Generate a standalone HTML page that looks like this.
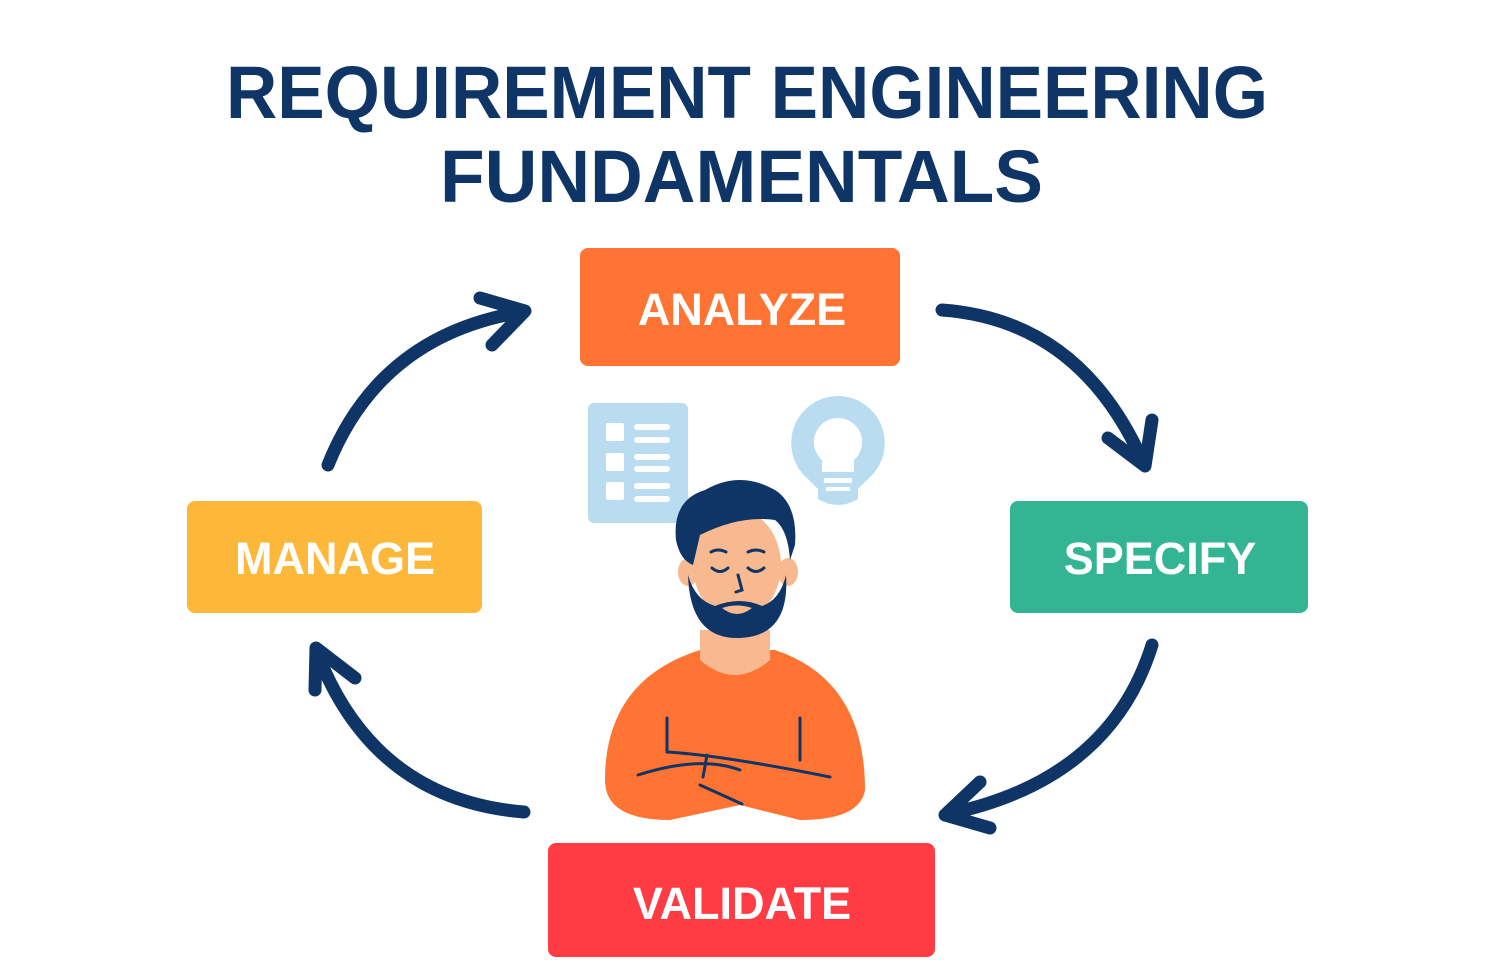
<!DOCTYPE html>
<html><head><meta charset="utf-8"><style>
html,body{margin:0;padding:0;background:#fff;}
svg{display:block;}
</style></head><body>
<svg width="1500" height="973" viewBox="0 0 1500 973" xmlns="http://www.w3.org/2000/svg">
<rect width="1500" height="973" fill="#fff"/>
<g font-family="Liberation Sans, sans-serif" font-weight="bold" fill="#0E3566">
<text x="226" y="118" font-size="74" textLength="1042" lengthAdjust="spacingAndGlyphs">REQUIREMENT ENGINEERING</text>
<text x="440" y="202" font-size="74" textLength="603" lengthAdjust="spacingAndGlyphs">FUNDAMENTALS</text>
</g>
<g>
<rect x="580" y="248" width="320" height="118" rx="8" fill="#FF7333"/>
<rect x="187" y="501" width="295" height="112" rx="8" fill="#FDB83A"/>
<rect x="1010" y="501" width="298" height="112" rx="8" fill="#33B594"/>
<rect x="548" y="843" width="387" height="114" rx="8" fill="#FF3B44"/>
</g>
<g font-family="Liberation Sans, sans-serif" font-weight="bold" fill="#fff" font-size="45" text-anchor="middle">
<text x="742" y="325">ANALYZE</text>
<text x="335" y="574">MANAGE</text>
<text x="1160" y="574">SPECIFY</text>
<text x="742" y="919">VALIDATE</text>
</g>
<g fill="none" stroke="#0E3566" stroke-width="13" stroke-linecap="round" stroke-linejoin="round">
<path d="M328 465 Q380 335 522 312"/>
<path d="M480 298 L525 311 L492 345"/>
<path d="M942 310 Q1080 320 1143 462"/>
<path d="M1108 438 L1145 466 L1152 420"/>
<path d="M1152 645 Q1110 780 948 814"/>
<path d="M980 782 L945 815 L990 828"/>
<path d="M524 812 Q375 800 318 655"/>
<path d="M315 690 L316 648 L355 678"/>
</g>
<!-- checklist -->
<rect x="588" y="403" width="100" height="120" rx="6" fill="#BADCF1"/>
<g fill="#fff">
<rect x="606" y="423" width="18" height="18" rx="2"/><rect x="634" y="424" width="36" height="6" rx="3"/><rect x="634" y="437" width="36" height="6" rx="3"/>
<rect x="606" y="453" width="18" height="18" rx="2"/><rect x="634" y="454" width="36" height="6" rx="3"/><rect x="634" y="466" width="36" height="6" rx="3"/>
<rect x="606" y="482" width="18" height="18" rx="2"/><rect x="634" y="483" width="36" height="6" rx="3"/><rect x="634" y="496" width="36" height="6" rx="3"/>
</g>
<!-- bulb -->
<path d="M838 396 a47 47 0 0 1 30 83 l-10 10 v10 q-20 12 -40 0 v-10 l-10 -10 a47 47 0 0 1 30 -83z" fill="#BADCF1"/>
<path d="M838 418 a24 24 0 0 1 16 42 v12 h-32 v-12 a24 24 0 0 1 16 -42z" fill="#fff"/>
<rect x="824" y="478" width="28" height="5" fill="#fff"/><rect x="826" y="487" width="24" height="4" fill="#fff"/>
<!-- person body -->
<path d="M605 780 Q605 680 700 650 L775 650 Q865 680 865 790 Q860 820 800 820 L740 805 L670 820 Q605 820 605 780z" fill="#FF7333"/>
<path d="M700 630 L770 630 L770 660 Q735 690 700 660z" fill="#F8B990"/>
<g fill="none" stroke="#0E3566" stroke-width="3" stroke-linecap="round">
<path d="M667 718 V752"/><path d="M800 718 V760"/>
<path d="M638 775 Q700 755 740 770"/>
<path d="M667 752 Q720 755 830 777"/>
<path d="M707 755 L703 777"/>
<path d="M700 785 L742 804"/>
</g>
<!-- head -->
<ellipse cx="688" cy="572" rx="10" ry="14" fill="#F8B990"/>
<ellipse cx="788" cy="572" rx="10" ry="14" fill="#F8B990"/>
<ellipse cx="737" cy="565" rx="44" ry="55" fill="#F8B990"/>
<path d="M676 540 Q672 500 705 490 Q740 470 775 490 Q798 505 795 545 L790 560 Q788 530 775 520 Q740 515 700 535 L693 565 Q680 560 676 540z" fill="#0E3566"/>
<path d="M688 575 Q690 640 740 638 Q790 636 786 575 Q780 600 762 606 Q740 596 715 606 Q695 600 688 575z" fill="#0E3566"/>
<path d="M722 608 Q737 620 752 608 Q737 603 722 608z" fill="#F8B990"/>
<g fill="none" stroke="#0E3566" stroke-width="3" stroke-linecap="round">
<path d="M711 552 Q718 548 726 552"/><path d="M748 552 Q756 548 764 552"/>
<path d="M712 568 Q720 575 728 568"/><path d="M748 568 Q756 575 764 568"/>
<path d="M738 575 L742 590 L736 592"/>
</g>
</svg>
</body></html>
